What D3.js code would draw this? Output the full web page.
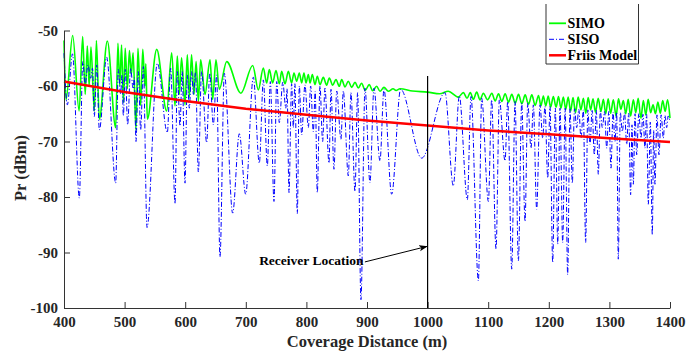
<!DOCTYPE html>
<html>
<head>
<meta charset="utf-8">
<script src="https://cdn.jsdelivr.net/npm/d3@7"></script>
<style>
  body { margin: 0; background: #fff; }
  svg text { font-family: "Liberation Serif", "Times New Roman", Times, "DejaVu Serif", serif !important; font-weight: bold; }
</style>
</head>
<body>
<div id="chart"></div>
<script>
// tick labels
const xTicks = [400, 500, 600, 700, 800, 900, 1000, 1100, 1200, 1300, 1400];
const yTicks = [-100, -90, -80, -70, -60, -50];

// Friis model, read at every 100 m
const friisDist = [400, 500, 600, 700, 800, 900, 1000, 1100, 1200, 1300, 1400];
const friisPr = [-59.2, -61.1, -62.7, -64.1, -65.2, -66.2, -67.1, -68.0, -68.7, -69.4, -70.1];

// SISO: peaks and nulls [distance m, Pr dBm]
const siso = [
  [400,-54.1],[405.5,-63.4],[414,-54.2],[425.3,-80.2],[431,-55.6],[435,-59.8],[439.5,-56.2],[444,-58.6],[447,-56.8],[450,-65.5],
  [454,-56.2],[458.3,-67.9],[470.4,-54.8],[485.3,-77.5],[489.6,-57],[493.5,-61.5],[495.7,-58],[497.9,-65.4],[501.2,-57],[505,-67],
  [510,-56.8],[514,-60.5],[516,-58.5],[518.8,-70],[522.6,-57.4],[526.5,-67.9],[530.9,-56.5],[537,-85.5],[554,-55.9],
  [570.5,-68.4],[576,-56.8],[583.2,-81.2],[587,-57.4],[591.4,-67.2],[595,-57.4],[599.7,-77.5],[603.5,-58],[606.8,-64],[610.5,-57.4],
  [613.5,-61.5],[617,-57.6],[621.7,-75.5],[627,-57.4],[635.4,-70.2],[640.5,-57.7],[646.4,-67],[651.8,-58],[657.4,-90.8],[664.6,-57.7],
  [678.3,-82.9],[689.3,-68.6],[699.8,-79.5],[712.4,-58.4],[722.3,-73.9],[729,-58.9],
  [735.5,-74.4],[740.5,-59.2],[746.5,-80.8],[751,-59.2],[755.3,-66.6],[761,-59.3],[766,-64],[768,-60.5],[771.3,-79.2],[775.6,-59.6],
  [778.4,-67.5],[781,-59.6],[785,-83],[788.3,-60],[792.2,-68.8],[797.6,-59.8],[803.2,-67.5],[807,-60],[811.4,-68.2],[814.5,-61],
  [818,-79.2],[822.4,-60],[826.8,-70],[830.6,-60.4],[837.3,-73.9],[840.6,-60.6],[845.5,-75],[850,-60.9],[857,-69.6],[860.9,-60.9],
  [869.2,-76.2],[873.5,-61.2],[880.2,-79],[884.5,-61.2],[890,-98.5],[896.7,-60.4],
  [904.9,-77.4],[911.5,-60.4],[921.4,-73.5],[928,-60.6],[940.7,-79.5],[955.5,-60.6],[990.2,-73],[1028.7,-61.2],[1042.4,-78],[1052.3,-61.8],
  [1065.6,-80.5],[1071.6,-61.9],[1083.8,-95.1],[1089.2,-62.2],[1100.3,-80.8],[1105.7,-62.5],[1112.9,-89.4],[1118.4,-62.5],[1127.8,-73.5],
  [1132.2,-62.8],[1138.8,-93],[1144.3,-62.8],[1149.8,-91.5],[1155.3,-63.1],[1160.8,-84.4],[1165.2,-63.1],[1170.7,-71.2],[1174.5,-63.4],
  [1180,-82.2],[1185.5,-63.4],[1189.9,-69.4],[1193.7,-63.7],[1198.2,-76.6],[1202,-63.7],[1206.4,-91.8],[1210.8,-64],[1214.7,-88.5],
  [1218.5,-64],[1222.9,-88.2],
  [1227,-64],[1231.1,-94],[1235,-64.1],[1238.8,-77.5],[1242.4,-64.1],[1246,-67.5],[1249.5,-64.2],[1253.1,-69.4],[1257,-64.3],[1260.8,-88.2],
  [1264.4,-64.3],[1268,-70.5],[1271.5,-64.4],[1275.1,-72.4],[1278.4,-64.4],[1281.7,-75.9],[1285,-64.5],[1288.3,-67.5],[1292,-64.6],
  [1295.5,-71.2],[1299,-64.6],[1302.6,-74.8],[1306,-64.7],[1309.2,-70],[1312,-64.7],[1314.7,-91.2],[1318,-64.8],[1321.3,-68.2],
  [1325,-64.8],[1328.5,-70.5],[1331.8,-64.9],[1335,-79.6],[1337.3,-67],[1339.5,-77.7],[1342.3,-65],[1345,-72.4],[1348.5,-65],
  [1352.1,-69.4],[1355.4,-65.1],[1358.7,-71.2],[1361.4,-65.1],[1364.2,-81.3],[1367.5,-66.5],[1370.8,-86.8],[1373,-68],[1375.2,-77.7],
  [1378.5,-65.2],[1381.8,-72.4],[1385.4,-65.2],[1389,-69.4],[1391.8,-65.3],[1394.5,-67.5],[1397,-65.4],[1400,-66.4]
];

// SIMO: peaks and dips
const simo = [
  [400,-51.8],[403.3,-62.5],[414.3,-50.9],[425,-64.5],[430.8,-51.1],[435,-61.5],[438.5,-52.8],[441.5,-60],[444.5,-53],[450,-64.5],
  [453.5,-51.8],[458.3,-66],[471.5,-51.9],[485.3,-67.5],[489,-52.3],[492,-60],[495,-52.6],[498,-63],[501,-53.2],[504.5,-60.5],
  [508,-53.6],[511,-58],[514,-54],[518.8,-68],[522,-53.2],[526.5,-63.5],[530,-53.4],[533.5,-60],[535,-56],[537.5,-66],[553,-53.4],
  [569.4,-64.5],[577.7,-54],[583.2,-63.6],[587,-54.6],[590.3,-61.5],[594,-54.9],[599.7,-63.4],[603.5,-54.4],[606.8,-62],[610.5,-54.4],
  [614.5,-61.5],[618,-55.6],[621.7,-62.8],[625.5,-55.3],[632.7,-61.5],[641,-55.3],[645.3,-62.4],[650.8,-55.3],[656.3,-60.6],
  [668.4,-55.6],[692,-61.3],[711.4,-56.3],[720.7,-60.7],
  [728.9,-56.75],[734.4,-59.45],[738.8,-57.05],[744.3,-59.45],[749.8,-57.2],[755.3,-59.6],[759.2,-57.35],[764.7,-59.6],[770.2,-57.35],
  [775.6,-59.45],[779.5,-57.65],[783.9,-59.15],[788.3,-57.65],[792.2,-59.45],[796,-57.65],[799.3,-59.45],[803.2,-57.95],[806,-59.45],
  [809.8,-57.95],[814.2,-59.75],[818,-58.25],[822.4,-59.75],[827.9,-58.45],[833.4,-59.85],[837.8,-58.55],[843.3,-59.85],[848.8,-58.85],
  [854.3,-60.05],[858.2,-58.85],[863.7,-60.15],[869.2,-59.15],[874.7,-60.25],[880.2,-59.35],[885.7,-60.35],[891,-59.5],[897,-60.8],
  [903.8,-59.75],[909.3,-60.85],[915.9,-60.05],[921.4,-60.95],[928,-60.25],[935.2,-60.95],[943,-60.5],[948,-60.8],[954.4,-60.5],
  [975,-60.9],[1000,-61.1],[1020,-61.4],[1034,-60.95],[1050.6,-62],
  [1059,-61.2],[1065,-62.2],[1070.5,-61.2],[1075.5,-62.4],[1081,-61.1],[1086.5,-62.5],[1092,-61.3],[1099,-62.5],[1106,-61.3],
  [1111.5,-62.7],[1117,-61.4],[1122.5,-62.8],[1128,-61.4],[1133.5,-62.9],[1139,-61.5],[1144.5,-63.1],[1150,-61.5],[1155.5,-63.2],
  [1161,-61.6],[1166.5,-63.3],[1172,-61.6],[1177.5,-63.5],[1183,-61.7],[1187,-63.6],[1191,-61.8],[1195,-63.6],[1199,-61.8],
  [1203,-63.8],[1207.5,-61.9],[1212,-63.8],[1216,-61.9],[1220,-64],[1224,-62],[1228,-64.2],[1232,-62],[1236,-64.5],[1240,-62.1],
  [1244,-64.8],[1248.5,-62],[1253,-64.3],[1257,-62.2],[1261,-64.9],[1265,-62.1],[1269,-64.3],[1273,-62.3],[1277,-64.7],[1281.5,-62.2],
  [1286,-64.6],[1290,-62.4],[1294,-65],[1298,-62.3],[1302,-64.9],[1306.5,-62.5],[1311,-65.4],[1315,-62.3],[1319,-64.2],[1323,-62.6],
  [1327,-65],[1331,-62.4],[1335,-65.4],[1339.5,-62.5],[1343.5,-64.8],[1347.5,-62.2],[1352,-65.8],[1356,-62.6],[1360,-65.2],[1364,-62.4],
  [1368,-64.8],[1372,-63.4],[1376,-65],[1380,-62.9],[1384,-64.9],[1388,-62.6],[1392,-64.6],[1396,-62.5],[1400,-65.8]
];

// receiver marker and annotation, in data units
const receiverDist = 1000, receiverTop = -58.2;
const noteText = "Receiver Location", noteAt = [722, -92.3];
const arrowFrom = [896.5, -91.7], arrowTo = [999, -88.9];

const width = 686, height = 355;
const margin = { top: 30.5, right: 16, bottom: 47, left: 64 };
const serif = "'Liberation Serif', 'Times New Roman', Times, 'DejaVu Serif', serif";

const svg = d3.select("#chart").append("svg")
  .attr("width", width).attr("height", height)
  .attr("font-family", serif);

const x = d3.scaleLinear().domain([400, 1400]).range([margin.left, width - margin.right]);
const y = d3.scaleLinear().domain([-100, -50]).range([height - margin.bottom, margin.top]);

const line = d3.line().x(d => x(d[0])).y(d => y(d[1])).curve(d3.curveMonotoneX);

svg.append("path").datum(simo)
  .attr("fill", "none").attr("stroke", "#00ff00").attr("stroke-width", 1.6)
  .attr("d", line);

svg.append("path").datum(siso)
  .attr("fill", "none").attr("stroke", "#0000ff").attr("stroke-width", 1)
  .attr("stroke-dasharray", "5,2,1,2")
  .attr("d", line);

svg.append("path").datum(friisDist.map((d, i) => [d, friisPr[i]]))
  .attr("fill", "none").attr("stroke", "#ff0000").attr("stroke-width", 2.5)
  .attr("d", d3.line().x(d => x(d[0])).y(d => y(d[1])));

// axes, ticks pointing inward
const xAxis = svg.append("g")
  .attr("transform", `translate(0,${y(-100)})`)
  .call(d3.axisBottom(x).tickValues(xTicks).tickFormat(d3.format("d"))
    .tickSizeInner(-6).tickSizeOuter(0).tickPadding(8));
const yAxis = svg.append("g")
  .attr("transform", `translate(${x(400)},0)`)
  .call(d3.axisLeft(y).tickValues(yTicks).tickFormat(d => String(d))
    .tickSizeInner(-6).tickSizeOuter(0).tickPadding(6));

[xAxis, yAxis].forEach(g => {
  g.attr("font-family", serif).attr("font-size", 15);
  g.select(".domain").attr("stroke", "#333");
  g.selectAll(".tick line").attr("stroke", "#333");
  g.selectAll(".tick text").attr("fill", "#262626").style("font-family", serif)
    .style("font-size", "15px").style("font-weight", "bold");
});

// axis titles
svg.append("text")
  .attr("x", (x(400) + x(1400)) / 2).attr("y", 346.5)
  .attr("text-anchor", "middle").style("font-size", "16.5px").attr("fill", "#262626")
  .text("Coverage Distance (m)");
svg.append("text")
  .attr("transform", `translate(26,168) rotate(-90)`)
  .attr("text-anchor", "middle").style("font-size", "16.5px").attr("fill", "#262626")
  .text("Pr (dBm)");

// receiver line
svg.append("line")
  .attr("x1", x(receiverDist)).attr("x2", x(receiverDist))
  .attr("y1", y(receiverTop)).attr("y2", y(-100))
  .attr("stroke", "#000").attr("stroke-width", 1.2);

// annotation with arrow
svg.append("defs").append("marker")
  .attr("id", "arrow").attr("viewBox", "0 -4 10 8")
  .attr("refX", 9).attr("refY", 0)
  .attr("markerWidth", 9).attr("markerHeight", 7)
  .attr("markerUnits", "userSpaceOnUse").attr("orient", "auto")
  .append("path").attr("d", "M0,-3.5L10,0L0,3.5L2.5,0Z").attr("fill", "#000");

svg.append("line")
  .attr("x1", x(arrowFrom[0])).attr("y1", y(arrowFrom[1]))
  .attr("x2", x(arrowTo[0])).attr("y2", y(arrowTo[1]))
  .attr("stroke", "#000").attr("stroke-width", 1)
  .attr("marker-end", "url(#arrow)");

svg.append("text")
  .attr("x", x(noteAt[0])).attr("y", y(noteAt[1]))
  .style("font-size", "13.5px").attr("fill", "#000")
  .text(noteText);

// legend
const legendItems = [
  { name: "SIMO", color: "#00ff00", width: 1.8, dash: null },
  { name: "SISO", color: "#0000ff", width: 1, dash: "5,2,1,2" },
  { name: "Friis Model", color: "#ff0000", width: 2.5, dash: null }
];
const lg = svg.append("g");
lg.append("path")
  .attr("d", "M546,4V64H638.5V4")
  .attr("fill", "none").attr("stroke", "#333").attr("stroke-width", 1);
legendItems.forEach((it, i) => {
  const ly = 23.3 + i * 16;
  lg.append("line")
    .attr("x1", 549).attr("x2", 566).attr("y1", ly).attr("y2", ly)
    .attr("stroke", it.color).attr("stroke-width", it.width)
    .attr("stroke-dasharray", it.dash);
  lg.append("text")
    .attr("x", 567.5).attr("y", ly + 4.8)
    .style("font-size", "14px").attr("fill", "#000")
    .text(it.name);
});
</script>
</body>
</html>
